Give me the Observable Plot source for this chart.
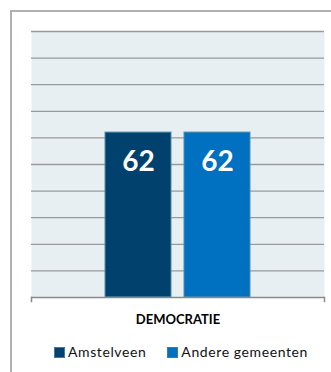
<!DOCTYPE html>
<html><head><meta charset="utf-8">
<script src="https://cdn.jsdelivr.net/npm/d3@7"></script>
<script src="https://cdn.jsdelivr.net/npm/@observablehq/plot@0.6"></script>
<style>
html,body{margin:0;padding:0;background:#fff}
body{width:331px;height:372px;overflow:hidden;position:relative;font-family:Lato,"Open Sans",sans-serif}
#border{position:absolute;left:10px;top:10px;width:330px;height:370px;border-left:2px solid #b0b0b0;border-top:2px solid #b0b0b0;box-sizing:border-box}
#chart{position:absolute;left:0;top:0}
#legend{position:absolute;top:345px;left:54px;display:flex;align-items:center;font-size:14px;letter-spacing:0.6px;color:#111;line-height:14px;white-space:nowrap}
.item{display:flex;align-items:center;margin-right:21px}
.sw{width:9px;height:9px;border:1px solid #3d7f99;margin-right:3px}
</style></head><body>
<div id="border"></div>
<div id="chart"></div>
<div id="legend"></div>
<script>
const categories = ["DEMOCRATIE"];
const seriesNames = ["Amstelveen", "Andere gemeenten"];
const amstelveen = [62];
const andereGemeenten = [62];
const gridTicks = [10, 20, 30, 40, 50, 60, 70, 80, 90, 100];
const colors = ["#00416e", "#0070c0"];

const data = categories.flatMap((c, i) => [
  {category: c, series: seriesNames[0], value: amstelveen[i]},
  {category: c, series: seriesNames[1], value: andereGemeenten[i]}
]);

const plot = Plot.plot({
  width: 331, height: 335,
  marginLeft: 31, marginRight: 7, marginTop: 31, marginBottom: 38,
  fx: {domain: categories, padding: 0, label: null},
  x: {domain: seriesNames, paddingInner: 13/79, paddingOuter: 74/79, axis: null},
  y: {domain: [0, 100], axis: null},
  color: {domain: seriesNames, range: colors},
  style: {fontFamily: "Lato, 'Open Sans', sans-serif", background: "transparent"},
  marks: [
    Plot.frame({fill: "#e8eff3", stroke: "none"}),
    Plot.ruleY(gridTicks, {stroke: "#9a9a9a", strokeWidth: 1.3}),
    Plot.barY(data, {fx: "category", x: "series", y: "value", fill: "series", stroke: "#4f8fa8", strokeWidth: 1}),
    Plot.text(data, {fx: "category", x: "series", y: "value", text: d => String(d.value), fill: "white", fontSize: 28, fontWeight: "bold", dy: 29}),
    Plot.ruleY([0], {stroke: "#8a8a8a", strokeWidth: 1.5}),
    Plot.frame({anchor: "left", insetTop: 262, dy: 4, stroke: "#8a8a8a", strokeWidth: 1.5}),
    Plot.frame({anchor: "right", insetTop: 262, dy: 4, stroke: "#8a8a8a", strokeWidth: 1.5}),
    Plot.axisFx({anchor: "bottom", tickSize: 0, tickPadding: 17, fontSize: 13, fontWeight: "bold", label: null, fill: "#000"})
  ]
});
document.getElementById("chart").appendChild(plot);

const legend = document.getElementById("legend");
seriesNames.forEach((name, i) => {
  const item = document.createElement("div");
  item.className = "item";
  const sw = document.createElement("div");
  sw.className = "sw";
  sw.style.background = colors[i];
  const t = document.createElement("span");
  t.textContent = name;
  item.appendChild(sw);
  item.appendChild(t);
  legend.appendChild(item);
});
</script>
</body></html>
